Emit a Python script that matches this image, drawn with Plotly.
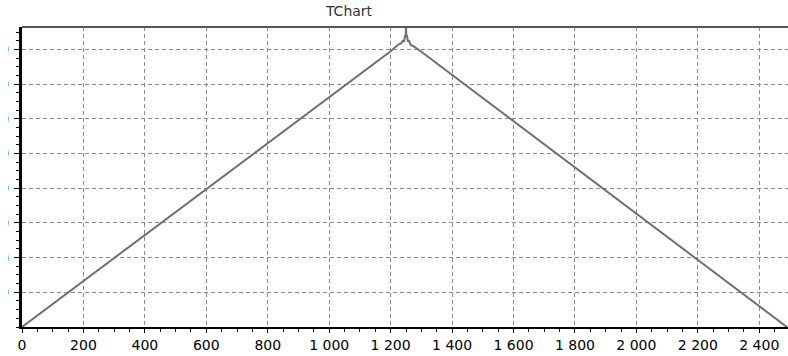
import plotly.graph_objects as go

# Series: rises to a peak near x=1250 with a narrow spike, then falls back to zero
x_vals = [0, 400, 800, 1200, 1226, 1234, 1240, 1244, 1247, 1249, 1250, 1251, 1253, 1256, 1260, 1266, 1274, 1300, 1600, 2000, 2400, 2490]
y_vals = [0, 398, 795, 1192, 1222, 1226, 1238, 1236, 1258, 1262, 1297, 1256, 1262, 1236, 1236, 1218, 1214, 1190, 890, 490, 90, 0]

# Axis ticks
x_ticks = list(range(0, 2401, 200))
y_ticks = [150, 300, 450, 600, 750, 900, 1050, 1200]

FONT = "DejaVu Sans"

fig = go.Figure()
fig.add_trace(go.Scatter(
    x=x_vals, y=y_vals, mode="lines",
    line=dict(color="#6f6f6f", width=2),
    hoverinfo="skip", showlegend=False,
))

grid = dict(showgrid=True, gridcolor="#8a8a8a", gridwidth=1, griddash="4px,3px", zeroline=False)

fig.update_layout(
    width=788, height=356,
    margin=dict(l=22, r=0, t=27, b=29, pad=0),
    paper_bgcolor="white", plot_bgcolor="white",
    separators=". ",
    title=dict(text="TChart", x=349 / 788, xref="container", xanchor="center",
               y=1 - 11 / 356, yref="container", yanchor="middle",
               font=dict(family=FONT, size=14, color="#333333")),
    xaxis=dict(
        range=[0, 2493.5], tickmode="array", tickvals=x_ticks, automargin=False,
        separatethousands=True, tickformat=",d",
        showline=True, linecolor="black", linewidth=2, mirror=False,
        ticks="outside", ticklen=4, tickcolor="black", tickwidth=1,
        minor=dict(dtick=50, tick0=0, ticks="outside", ticklen=3, tickcolor="black", showgrid=False),
        tickfont=dict(family=FONT, size=14, color="black"),
        **grid,
    ),
    yaxis=dict(
        range=[0, 1296.8], tickmode="array", tickvals=y_ticks, automargin=False,
        showline=True, linecolor="black", linewidth=3, mirror=False,
        ticks="outside", ticklen=5, tickcolor="black", tickwidth=1,
        minor=dict(dtick=37.5, tick0=0, ticks="outside", ticklen=3, tickcolor="black", showgrid=False),
        tickfont=dict(family=FONT, size=14, color="black"),
        ticklabelstandoff=2,
        **grid,
    ),
    shapes=[
        # top frame of the plot area
        dict(type="line", xref="paper", yref="paper", x0=0, x1=1, y0=1, y1=1,
             line=dict(color="#555555", width=2), layer="above"),
        # left border panel that trims the value labels
        dict(type="rect", xref="paper", yref="paper", x0=-0.2, x1=-0.0183, y0=-0.2, y1=1.2,
             fillcolor="white", line=dict(width=0), layer="above"),
    ],
)

fig.write_html("out.html")
